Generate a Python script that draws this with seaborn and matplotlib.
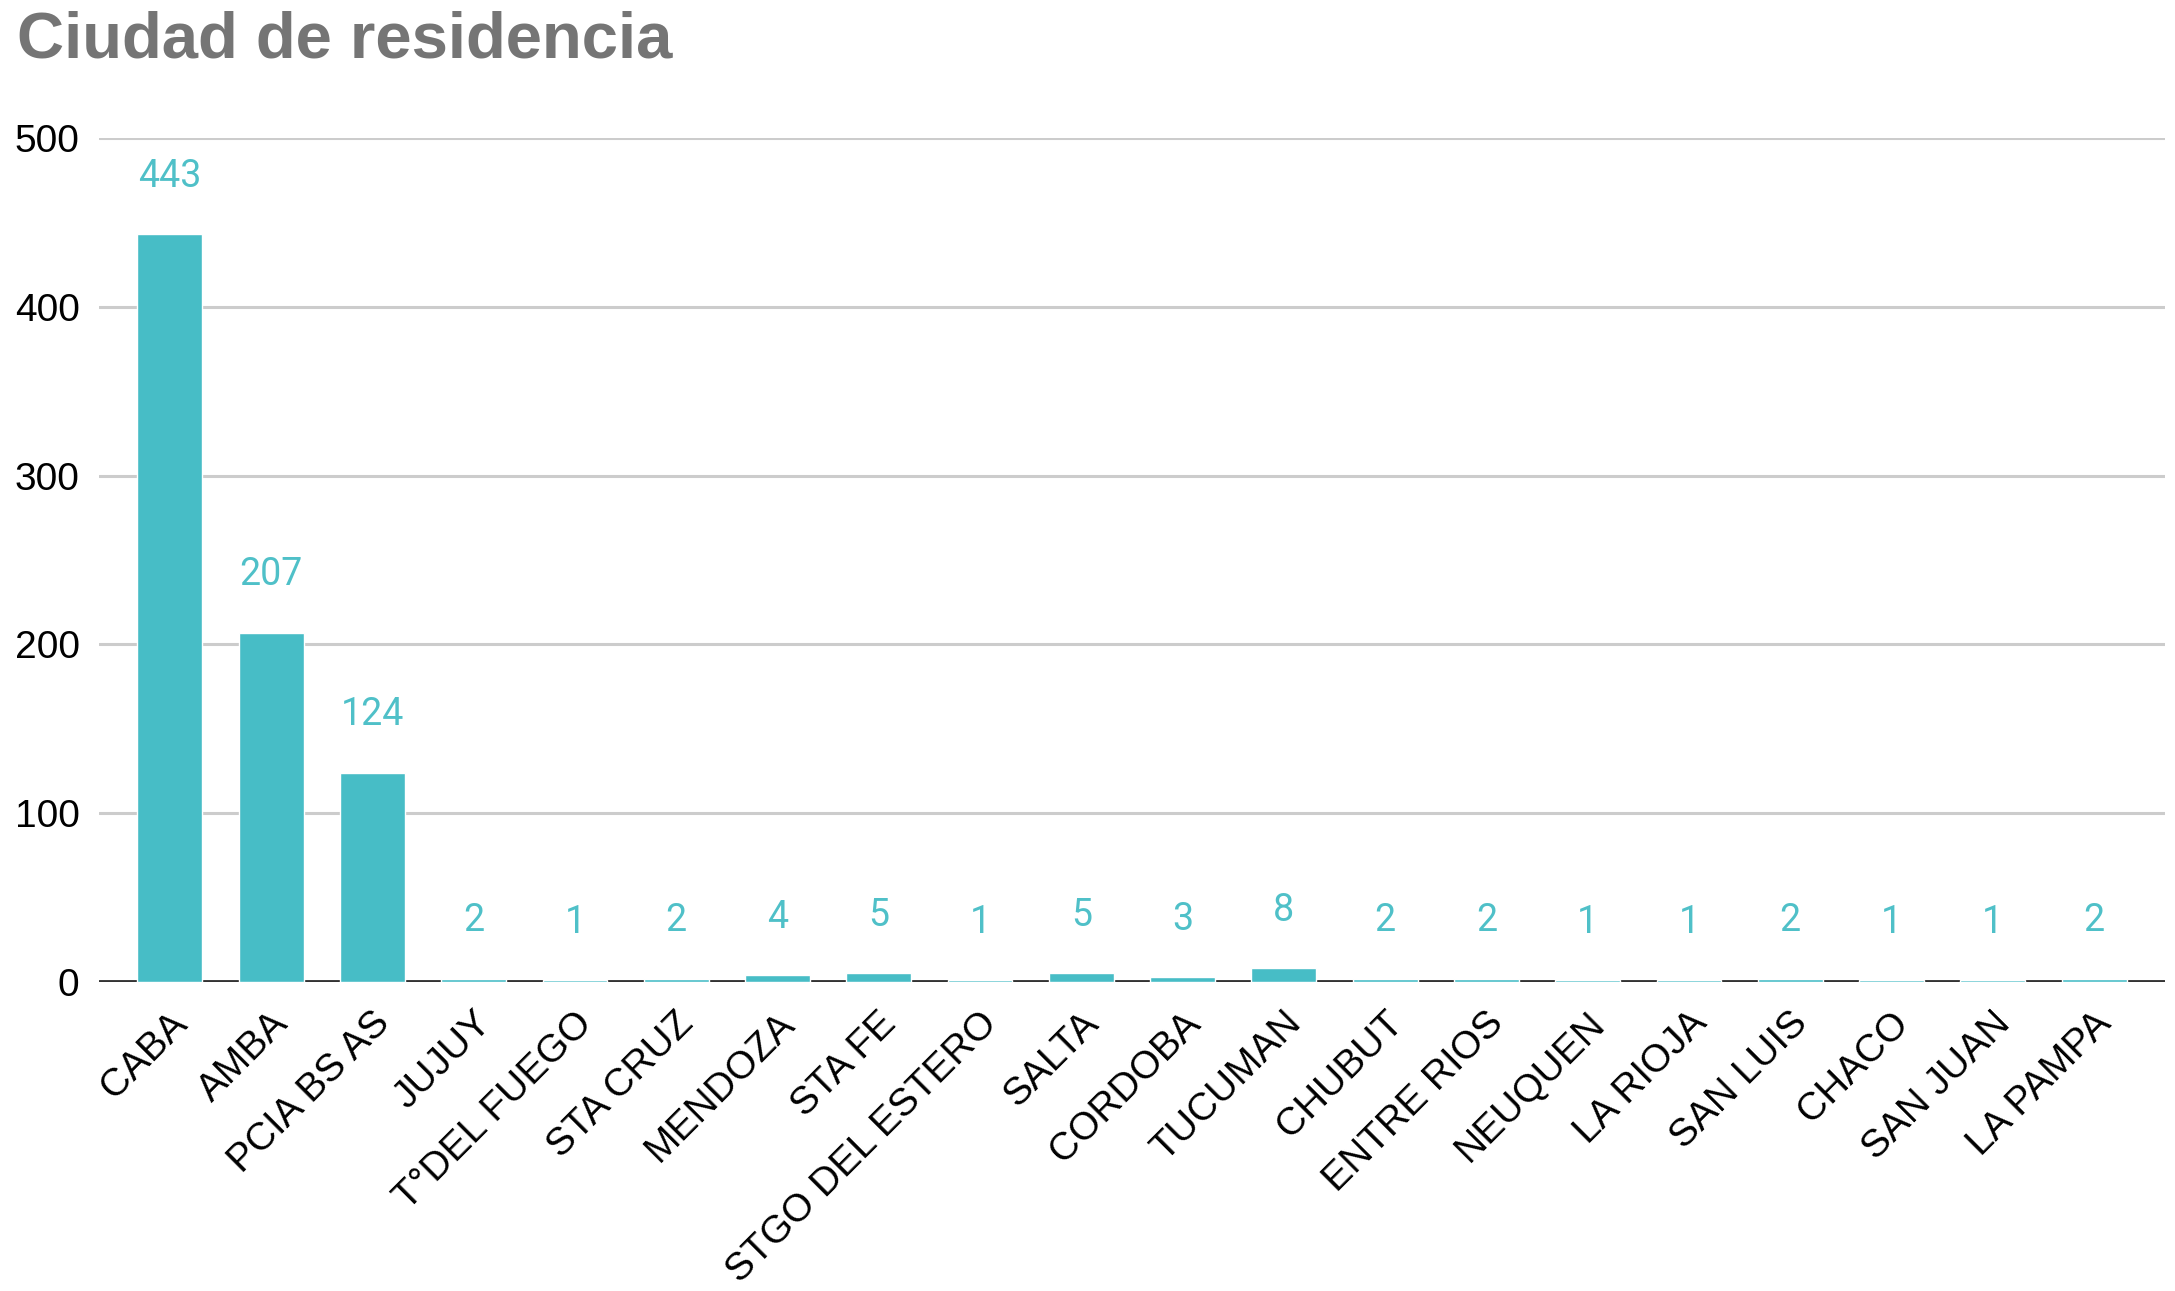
import matplotlib
matplotlib.use("Agg")
import matplotlib.pyplot as plt
import matplotlib.transforms as mtransforms
import seaborn as sns

# datos del grafico
ciudades = ["CABA", "AMBA", "PCIA BS AS", "JUJUY", "T°DEL FUEGO", "STA CRUZ",
            "MENDOZA", "STA FE", "STGO DEL ESTERO", "SALTA", "CORDOBA",
            "TUCUMAN", "CHUBUT", "ENTRE RIOS", "NEUQUEN", "LA RIOJA",
            "SAN LUIS", "CHACO", "SAN JUAN", "LA PAMPA"]
cantidades = [443, 207, 124, 2, 1, 2, 4, 5, 1, 5, 3, 8, 2, 2, 1, 1, 2, 1, 1, 2]
y_ticks = [0, 100, 200, 300, 400, 500]

color_barra = "#47bdc6"
color_valor = "#4fc0c8"

sns.set_style("white")
plt.rcParams["font.family"] = ["Liberation Sans", "DejaVu Sans"]

fig = plt.figure(figsize=(21.75, 12.91), dpi=100)
ax = fig.add_axes([0.0455, 0.2394, 0.9954 - 0.0455, 0.8931 - 0.2394])

sns.barplot(x=ciudades, y=cantidades, color=color_barra, saturation=1,
            width=0.64, ax=ax, zorder=3)

for y in y_ticks[1:]:
    ax.axhline(y, color="#cccccc", lw=2.2, zorder=1)
ax.axhline(0, color="#333333", lw=3.5, zorder=2)

for i, v in enumerate(cantidades):
    ax.annotate(str(v), (i, v), xytext=(0, 34), textcoords="offset points",
                ha="center", va="baseline", fontsize=27, color=color_valor,
                family=["Roboto", "DejaVu Sans"])

ax.set_xlim(-0.7, 19.7)
ax.set_ylim(0, 500)
ax.set_yticks(y_ticks)
ax.set_yticklabels([str(t) for t in y_ticks], fontsize=28, color="black")
ax.tick_params(axis="y", length=0, pad=14)
ax.tick_params(axis="x", length=0, pad=28)
ax.set_xticks(range(len(ciudades)))
ax.set_xticklabels(ciudades, rotation=45, ha="right", va="center",
                   rotation_mode="anchor", fontsize=28, color="black")
desplaz = mtransforms.ScaledTranslation(0.12, 0.03, fig.dpi_scale_trans)
for lbl in ax.get_xticklabels():
    lbl.set_transform(lbl.get_transform() + desplaz)
for s in ax.spines.values():
    s.set_visible(False)
ax.set_xlabel("")
ax.set_ylabel("")

fig.text(17 / 2175, 1 - 57 / 1291, "Ciudad de residencia", fontsize=47,
         fontweight="bold", color="#757575", ha="left", va="baseline")

fig.savefig("out.png", dpi=100, facecolor="white")
